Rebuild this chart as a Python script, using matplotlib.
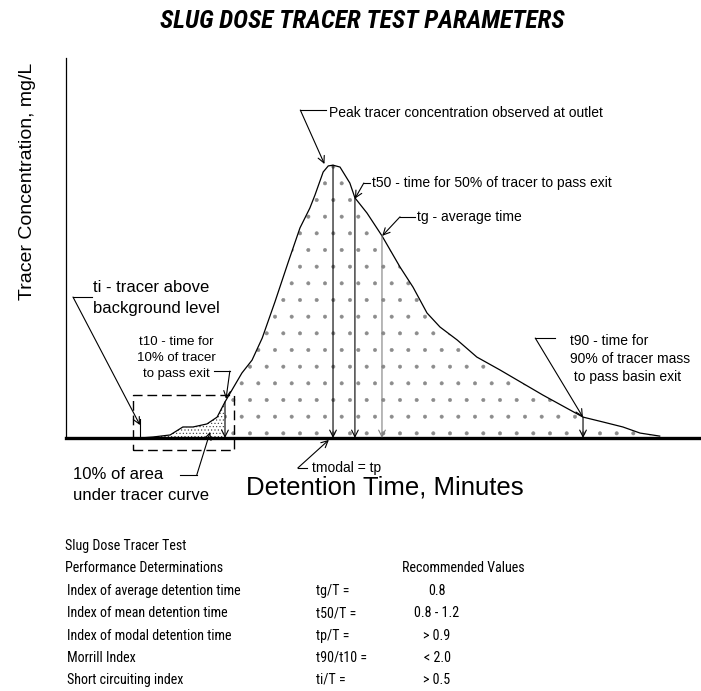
import numpy as np
import matplotlib
matplotlib.use('Agg')
import matplotlib.pyplot as plt
from matplotlib import font_manager
from matplotlib.font_manager import FontProperties
from matplotlib.patches import Rectangle

# tracer response curve (minutes, mg/L in chart units)
time_min = [0, 11.65, 13.7, 16.4, 18.4, 20.0, 22.2, 23.8, 25.04, 27.7, 29.3,
            30.9, 32.9, 35.0, 36.85, 38.4, 39.2, 40.5, 41.3, 42.05, 43.15,
            44.7, 45.5, 47.4, 49.76, 52.6, 54.65, 56.85, 58.9, 61.6, 64.7,
            68.35, 75.1, 81.42, 84.6, 87.7, 90.4, 93.5]
conc = [0, 0, 0.26, 0.8, 2.9, 2.9, 3.7, 5.5, 9.5, 17.1, 20.5,
        26.3, 35.8, 46.3, 55.3, 60.5, 63.9, 70.0, 71.6, 71.8, 71.3,
        67.1, 63.2, 59.2, 53.2, 45.0, 39.7, 32.9, 29.2, 25.8, 21.3,
        17.9, 11.3, 5.5, 4.2, 2.9, 1.3, 0.5]

# characteristic times
t_i = 11.65
t_10 = 25.04
t_p = 42.05
t_50 = 45.5
t_g = 49.76
t_90 = 81.42

# summary table
table_labels = ['Index of average detention time', 'Index of mean detention time',
                'Index of modal detention time', 'Morrill Index', 'Short circuiting index']
table_ratios = ['tg/T =', 't50/T =', 'tp/T =', 't90/t10 =', 'ti/T =']
table_values = ['0.8', '0.8 - 1.2', '> 0.9', '< 2.0', '> 0.5']


def pick_narrow():
    # a condensed face if the box has one, plain Liberation Sans otherwise
    for fam in ['Liberation Sans Narrow', 'Roboto Condensed', 'Noto Sans', 'Open Sans',
                'DejaVu Sans']:
        try:
            path = font_manager.findfont(FontProperties(family=fam, stretch='condensed'),
                                         fallback_to_default=False)
        except ValueError:
            continue
        p = path.lower()
        if 'narrow' in p or 'condensed' in p:
            return fam
    return 'Liberation Sans'


SANS = ['Liberation Sans', 'DejaVu Sans']
NARROW = pick_narrow()
plt.rcParams['font.family'] = SANS
plt.rcParams['hatch.linewidth'] = 0.4

W, H = 701, 691
fig = plt.figure(figsize=(W / 100, H / 100), dpi=100)
ax = fig.add_axes([66 / W, (H - 438) / H, (W - 66) / W, 380 / H])
ax.set_xlim(0, 100)
ax.set_ylim(0, 100)
ax.set_xticks([])
ax.set_yticks([])
for s in ['top', 'right']:
    ax.spines[s].set_visible(False)
ax.spines['left'].set_linewidth(0.9)
ax.spines['bottom'].set_linewidth(2.4)

t_fine = np.linspace(0, max(time_min), 800)
c_fine = np.interp(t_fine, time_min, conc)

# 10% area, dense stipple
m = (t_fine >= 13.0) & (t_fine <= t_10)
ax.fill_between(t_fine[m], 0, c_fine[m], facecolor='none', edgecolor='0.2',
                hatch='.....', linewidth=0)
# rest of the area, sparse stipple
m = t_fine >= t_10
ax.fill_between(t_fine[m], 0, c_fine[m], facecolor='none', edgecolor='0.55',
                hatch='.', linewidth=0)

ax.plot(time_min, conc, color='black', lw=0.9)

arrow = dict(arrowstyle='->', lw=0.8, color='black', shrinkA=0, shrinkB=0,
             mutation_scale=12)

# vertical markers down to the base line
for t, col in [(t_10, 'black'), (t_p, 'black'), (t_50, 'black'), (t_g, '0.5'), (t_90, 'black')]:
    top = np.interp(t, time_min, conc)
    ax.annotate('', xy=(t, 0), xytext=(t, top), arrowprops=dict(arrow, color=col))
ax.plot([t_i, t_i], [0, 5], color='black', lw=0.8)

# dashed box around the first 10%
ax.add_patch(Rectangle((10.55, -3.2), 15.9, 14.5, fill=False, lw=1.0,
                       ls=(0, (7, 3.5)), clip_on=False))


def leader(pts):
    xs = [p[0] for p in pts[:-1]]
    ys = [p[1] for p in pts[:-1]]
    ax.plot(xs, ys, color='black', lw=0.8, clip_on=False)
    ax.annotate('', xy=pts[-1], xytext=pts[-2], arrowprops=arrow,
                annotation_clip=False)


ax.text(41.4, 85.6, 'Peak tracer concentration observed at outlet', fontsize=10,
        va='center')
leader([(41.0, 86.3), (36.9, 86.3), (40.7, 72.1)])

ax.text(48.2, 67.1, 't50 - time for 50% of tracer to pass exit', fontsize=10,
        va='center')
leader([(47.8, 67.1), (46.9, 67.1), (45.5, 63.0)])

ax.text(55.3, 58.2, 'tg - average time', fontsize=10, va='center')
leader([(55.0, 58.2), (52.6, 58.2), (49.8, 53.2)])

for i, s in enumerate(['t90 - time for', '90% of tracer mass', ' to pass basin exit']):
    ax.text(79.4, 25.5 - i * 4.7, s, fontsize=10, va='center')
leader([(77.0, 26.3), (73.9, 26.3), (81.4, 5.5)])

for i, s in enumerate(['t10 - time for', '10% of tracer', 'to pass exit']):
    ax.text(17.4, 25.3 - i * 4.2, s, fontsize=9.5, va='center', ha='center')
leader([(23.3, 17.6), (25.8, 17.6), (25.2, 10.3)])

for i, s in enumerate(['ti - tracer above', 'background level']):
    ax.text(4.25, 39.7 - i * 5.6, s, fontsize=12, va='center')
leader([(4.1, 37.1), (1.1, 37.1), (t_i, 3.4)])

for i, s in enumerate(['10% of area', 'under tracer curve']):
    ax.text(1.1, -9.7 - i * 5.4, s, fontsize=12, va='center')
leader([(18.0, -9.7), (20.6, -9.7), (22.7, 1.6)])

ax.text(38.7, -7.9, 'tmodal = tp', fontsize=10, va='center')
leader([(37.95, -7.9), (36.5, -7.9), (41.4, -0.5)])

fig.text(28 / W, 1 - 181 / H, 'Tracer Concentration, mg/L', rotation=90,
         fontsize=14, ha='center', va='center')
fig.text(385 / W, 1 - 488 / H, 'Detention Time, Minutes', fontsize=18.5,
         ha='center', va='center')
title = fig.text(362 / W, 1 - 21 / H, 'SLUG DOSE TRACER TEST PARAMETERS', family=NARROW,
                 stretch='condensed', fontsize=19, fontweight='bold',
                 fontstyle='italic', ha='center', va='center')

# table under the chart
tab = dict(family=NARROW, stretch='condensed', fontsize=10.5, va='center')
table_texts = [
    fig.text(65 / W, 1 - 546 / H, 'Slug Dose Tracer Test', **tab),
    fig.text(65 / W, 1 - 568 / H, 'Performance Determinations', **tab),
    fig.text(402 / W, 1 - 568 / H, 'Recommended Values', **tab),
]
row_y = [591, 613, 636, 658, 680]
for lab, rat, val, y in zip(table_labels, table_ratios, table_values, row_y):
    table_texts.append(fig.text(67 / W, 1 - y / H, lab, **tab))
    table_texts.append(fig.text(316 / W, 1 - y / H, rat, **tab))
    table_texts.append(fig.text(437 / W, 1 - y / H, val, ha='center', **tab))

# size the title and the table to the widths seen in the picture
r = fig.canvas.get_renderer()
w = title.get_window_extent(r).width
title.set_fontsize(title.get_fontsize() * 405 / w)
w = table_texts[3].get_window_extent(r).width
k = min(1.3, 176 / w)
for t in table_texts:
    t.set_fontsize(t.get_fontsize() * k)

fig.savefig('out.png', dpi=100)
